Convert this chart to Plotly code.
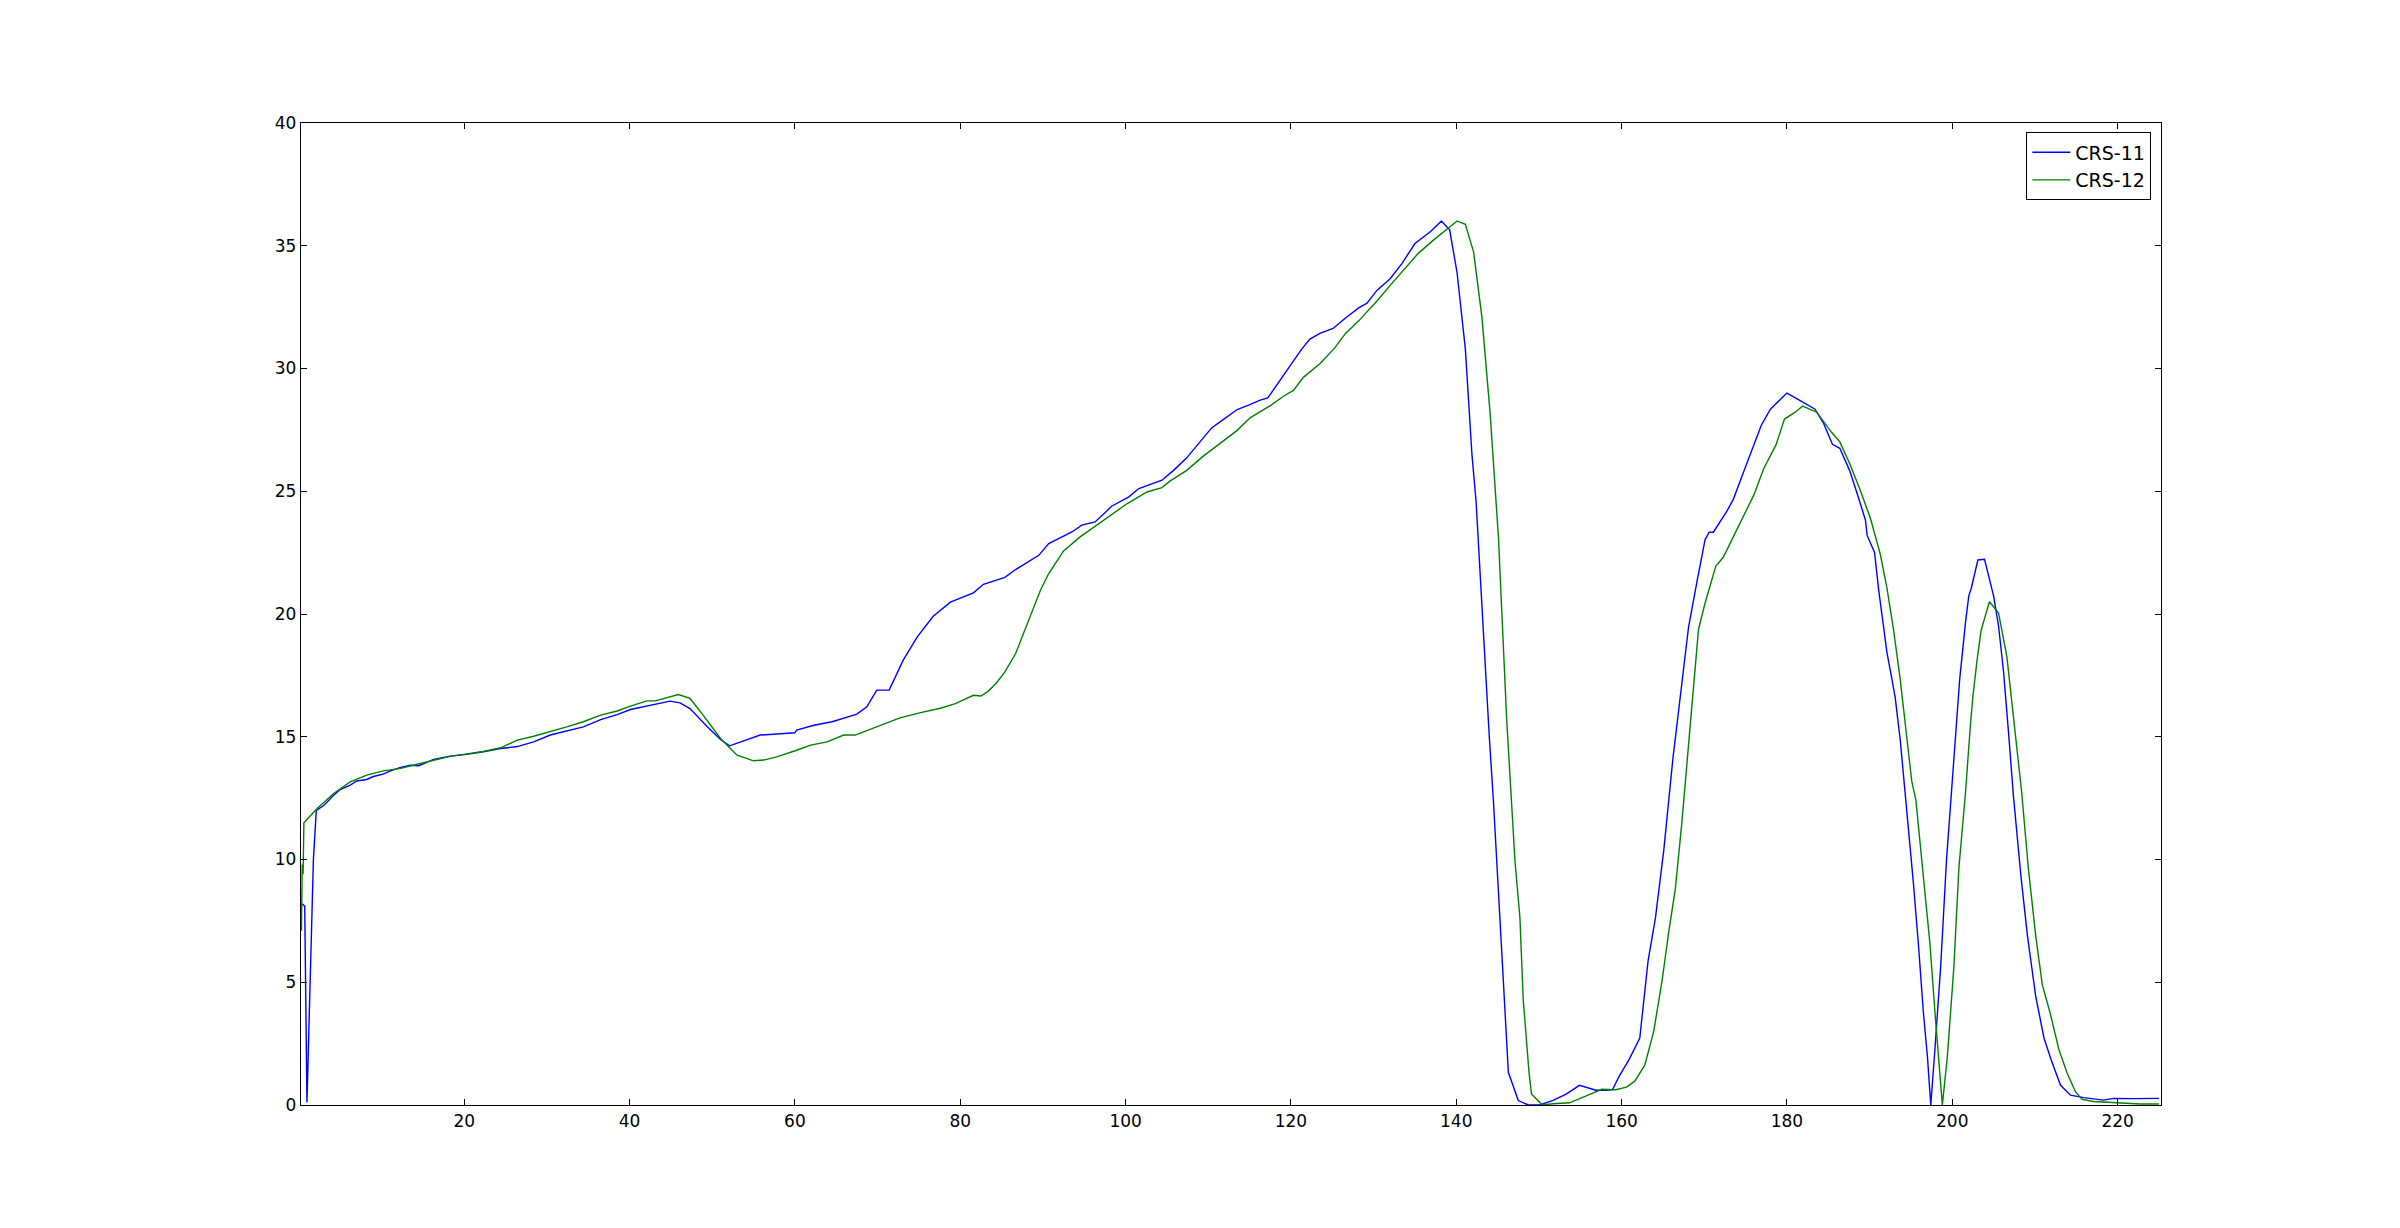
import plotly.graph_objects as go

# CRS-11 (blue)
crs11_x = [0.37, 0.7, 0.97, 1.6, 1.75, 2.1, 3.0, 4.2, 5.0, 6.2, 7.0, 8.2, 9.0, 10.2, 11.0, 12.3, 13.5, 14.5,
           16.3, 18.3, 20.3, 22.3, 24.4, 26.4, 28.4, 30.4, 32.4, 34.4, 36.5, 38.5, 40.1, 41.7, 44.9, 46.1,
           47.3, 49.4, 51.0, 52.1, 53.8, 55.8, 57.8, 60.0, 60.2, 62.3, 64.5, 65.9, 67.5, 68.7, 69.9, 71.4,
           73.1, 74.8, 76.7, 78.8, 81.6, 82.8, 85.4, 86.7, 89.5, 90.7, 93.5, 94.7, 96.3, 97.7, 98.3, 100.4,
           101.6, 104.4, 105.8, 107.4, 109.0, 110.4, 111.8, 113.5, 115.1, 116.2, 117.2, 118.6, 120.0, 121.3,
           122.3, 123.5, 125.1, 126.6, 128.2, 129.2, 130.4, 132.0, 133.4, 135.0, 136.9, 138.2, 139.2, 140.1,
           141.1, 141.9, 142.4, 142.9, 143.5, 144.0, 144.5, 145.0, 145.6, 146.3, 147.5, 148.7, 150.1, 151.7,
           153.3, 154.9, 156.9, 158.1, 158.9, 159.7, 160.9, 162.2, 162.7, 163.2, 164.1, 165.1, 166.2, 167.2,
           168.1, 169.1, 170.1, 170.6, 171.1, 172.7, 173.5, 174.7, 176.1, 176.9, 178.0, 180.0, 181.5, 183.4,
           184.4, 185.5, 186.4, 187.6, 188.6, 189.5, 189.7, 190.6, 191.1, 191.6, 192.1, 192.7, 193.1, 193.7,
           194.3, 194.9, 195.3, 195.9, 196.5, 197.0, 197.4, 197.9, 198.6, 199.3, 200.0, 200.9, 201.6, 202.0,
           202.3, 203.1, 203.9, 205.0, 205.6, 206.2, 206.8, 207.4, 208.3, 209.1, 210.1, 211.1, 212.0, 213.1,
           214.3, 215.9, 218.3, 219.5, 221.9, 225.0]
crs11_y = [8.2, 8.1, 0.1, 8.5, 10.0, 12.0, 12.2, 12.62, 12.85, 13.03, 13.2, 13.26, 13.38, 13.48, 13.6, 13.75, 13.84, 13.82,
           14.08, 14.21, 14.28, 14.39, 14.52, 14.6, 14.79, 15.07, 15.24, 15.4, 15.7, 15.9, 16.11, 16.22, 16.45, 16.38,
           16.15, 15.41, 14.89, 14.63, 14.83, 15.07, 15.11, 15.16, 15.27, 15.47, 15.61, 15.77, 15.92, 16.22, 16.9, 16.9,
           18.12, 19.07, 19.9, 20.48, 20.86, 21.21, 21.49, 21.81, 22.39, 22.87, 23.34, 23.62, 23.75, 24.19, 24.39, 24.77,
           25.11, 25.45, 25.85, 26.36, 27.0, 27.58, 27.92, 28.33, 28.54, 28.7, 28.8, 29.47, 30.12, 30.79,
           31.2, 31.43, 31.63, 32.06, 32.47, 32.66, 33.18, 33.66, 34.26, 35.09, 35.58, 36.01, 35.65, 33.9,
           30.79, 26.48, 24.56, 21.45, 18.09, 14.98, 12.35, 9.47, 5.64, 1.33, 0.18, 0.0, 0.0, 0.19,
           0.44, 0.8, 0.6, 0.6, 0.62, 1.17, 1.85, 2.73, 4.3, 5.86, 7.63, 10.37, 14.09, 17.02,
           19.47, 21.29, 23.03, 23.33, 23.33, 24.17, 24.66, 25.73, 27.01, 27.69, 28.34, 29.0, 28.71, 28.34,
           27.79, 26.91, 26.75, 25.83, 24.8, 23.82, 23.2, 22.51, 20.97, 19.66, 18.43, 17.35, 16.58, 14.89,
           12.73, 10.42, 9.03, 6.57, 3.8, 1.95, 0.0, 2.26, 5.65, 9.96, 13.35, 17.35, 19.66, 20.74,
           21.05, 22.2, 22.23, 20.74, 19.51, 17.66, 15.2, 12.58, 9.34, 6.88, 4.41, 2.72, 1.8, 0.8,
           0.4, 0.3, 0.2, 0.27, 0.26, 0.27]

# CRS-12 (green)
crs12_x = [0.3, 0.4, 0.5, 0.6, 2.2, 4.2, 6.2, 8.2, 10.2, 12.3, 14.3, 16.3, 18.3, 20.3, 22.3, 24.4, 26.4, 28.4,
           30.4, 32.4, 34.4, 36.5, 38.5, 40.1, 42.1, 43.1, 45.9, 47.3, 48.9, 51.0, 53.0, 55.0, 56.2, 57.8,
           60.2, 61.9, 63.9, 65.9, 67.3, 69.9, 72.7, 75.2, 77.6, 79.4, 81.6, 82.5, 83.4, 84.4, 85.4, 86.7,
           87.9, 89.7, 90.7, 92.5, 94.5, 97.3, 100.2, 102.6, 104.4, 105.4, 107.4, 109.4, 111.4, 113.5, 115.1,
           117.6, 119.1, 120.3, 121.5, 123.5, 125.3, 126.6, 128.2, 130.4, 132.4, 134.0, 135.4, 137.2, 138.8,
           140.1, 141.1, 142.1, 143.1, 144.1, 145.1, 146.1, 147.1, 147.7, 148.1, 148.8, 149.1, 150.4, 151.7,
           153.7, 155.8, 157.6, 159.3, 160.6, 161.6, 162.8, 163.9, 164.9, 165.7, 166.5, 167.3, 168.1, 168.7,
           169.3, 170.1, 171.4, 172.3, 174.3, 176.0, 177.2, 178.7, 179.7, 181.0, 181.9, 183.6, 185.4, 186.4,
           187.6, 188.8, 190.1, 191.3, 192.1, 192.9, 193.7, 194.4, 195.1, 195.6, 196.1, 196.7, 197.3, 197.9,
           198.5, 198.8, 199.4, 200.2, 200.8, 201.6, 202.2, 202.5, 203.0, 203.5, 204.5, 205.6, 206.6, 207.4,
           208.4, 209.2, 210.1, 210.9, 211.8, 212.9, 213.9, 214.9, 215.7, 217.1, 219.9, 222.7, 225.0]
crs12_y = [7.1, 9.8, 9.4, 11.5, 12.08, 12.69, 13.16, 13.44, 13.61, 13.71, 13.88, 14.05, 14.2, 14.3, 14.4, 14.55, 14.86, 15.02,
           15.2, 15.4, 15.61, 15.88, 16.05, 16.25, 16.46, 16.46, 16.72, 16.56, 15.88, 14.93, 14.25, 14.02, 14.05, 14.18,
           14.45, 14.66, 14.79, 15.07, 15.07, 15.41, 15.77, 15.98, 16.16, 16.35, 16.69, 16.66, 16.86, 17.2, 17.64, 18.39,
           19.41, 20.97, 21.65, 22.57, 23.14, 23.82, 24.5, 24.97, 25.15, 25.42, 25.85, 26.43, 26.94, 27.48, 28.0,
           28.51, 28.87, 29.11, 29.64, 30.19, 30.84, 31.43, 31.94, 32.75, 33.54, 34.14, 34.69, 35.22, 35.65,
           36.01, 35.87, 34.74, 32.1, 28.15, 23.13, 15.7, 9.95, 7.63, 4.3, 1.33, 0.45, 0.0, 0.05,
           0.09, 0.38, 0.64, 0.62, 0.73, 0.97, 1.62, 3.02, 5.08, 7.04, 8.8, 11.54, 14.48, 17.02,
           19.37, 20.45, 21.95, 22.31, 23.68, 24.85, 25.93, 26.91, 27.94, 28.22, 28.47, 28.22, 27.4, 27.01,
           26.12, 25.1, 23.9, 22.43, 21.05, 19.35, 17.35, 15.2, 13.19, 12.42, 10.73, 8.42, 6.57, 3.8,
           1.49, 0.0, 1.95, 5.65, 9.65, 12.73, 15.5, 16.66, 18.12, 19.35, 20.5, 20.04, 18.27, 15.81,
           12.73, 9.65, 6.88, 4.88, 3.8, 2.26, 1.29, 0.54, 0.23, 0.14, 0.1, 0.04, 0.04]

x_ticks = [20, 40, 60, 80, 100, 120, 140, 160, 180, 200, 220]
y_ticks = [0, 5, 10, 15, 20, 25, 30, 35, 40]

fig = go.Figure()
fig.add_trace(go.Scatter(x=crs11_x, y=crs11_y, mode="lines", name="CRS-11",
                         line=dict(color="#0000ff", width=1.4)))
fig.add_trace(go.Scatter(x=crs12_x, y=crs12_y, mode="lines", name="CRS-12",
                         line=dict(color="#008000", width=1.4)))

axis_common = dict(showgrid=False, zeroline=False, showline=True, linecolor="black", linewidth=1.3,
                   mirror="ticks", ticks="inside", ticklen=6, tickcolor="black", tickwidth=1,
                   tickfont=dict(family="DejaVu Sans", size=17, color="black"))

fig.update_xaxes(range=[0.25, 225.25], tickvals=x_ticks, ticktext=[str(v) for v in x_ticks], **axis_common)
fig.update_yaxes(range=[0, 40], tickvals=y_ticks, ticktext=[str(v) for v in y_ticks], **axis_common)

# page body has an 8px margin: plot area should land at x 300.7..2160.7, y 122.7..1105
fig.update_layout(
    width=2384, height=1212,
    margin=dict(l=292.7, r=231.3, t=114.7, b=115),
    plot_bgcolor="white", paper_bgcolor="white",
    font=dict(family="DejaVu Sans", size=17, color="black"),
    legend=dict(x=0.9948, y=0.9905, xanchor="right", yanchor="top",
                bordercolor="black", borderwidth=1, bgcolor="white",
                font=dict(family="DejaVu Sans", size=19, color="black"),
                itemwidth=38, tracegroupgap=0),
    showlegend=True,
)

fig.write_html("out.html")
